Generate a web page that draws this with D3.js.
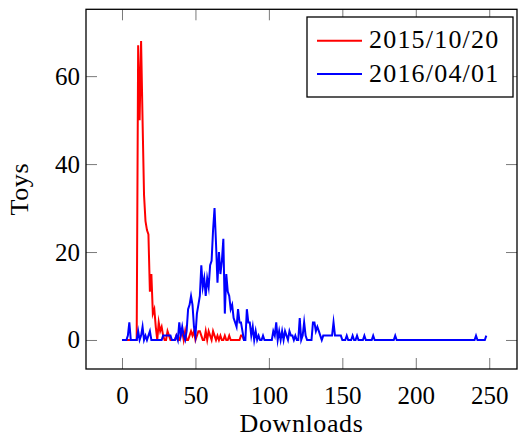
<!DOCTYPE html>
<html>
<head>
<meta charset="utf-8">
<script src="https://cdn.jsdelivr.net/npm/d3@7"></script>
<style>
  html, body { margin: 0; padding: 0; background: #fff; }
  svg { display: block; }
  text { font-family: "Liberation Serif", "DejaVu Serif", serif; fill: #000; }
</style>
</head>
<body>
<svg id="chart" width="530" height="439"></svg>
<script>
// Number of toys for each download count, on two snapshot dates.
const seriesNames = ["2015/10/20", "2016/04/01"];
const seriesColors = ["#ff0000", "#0000ff"];

// 2015/10/20: downloads 0..83
const toys2015 = [
  0, 0, 0, 0, 0, 0, 0, 0, 0, 0,
  0, 67, 50, 68, 50, 33, 27, 25, 24, 11,
  15, 6, 7, 3, 0, 4, 2, 3, 1, 0,
  0, 2, 1, 0, 0, 0, 0, 1, 0, 0,
  1, 2, 0, 2, 0, 0, 1, 2, 1, 2,
  0, 1, 2, 2, 1, 0, 0, 2, 0, 2,
  1, 0, 2, 1, 0, 1, 0, 1, 0, 0,
  1, 0, 0, 1, 0, 0, 0, 0, 0, 0,
  0, 1, 1, 0
];

// 2016/04/01: downloads 0..248
const toys2016 = [
  0, 0, 0, 0, 1, 4, 0, 0, 0, 0,
  0, 2, 0, 1, 3, 0, 1, 0, 1, 2,
  0, 0, 0, 0, 0, 0, 0, 0, 1, 1,
  1, 1, 1, 1, 0, 0, 0, 1, 0, 4,
  1, 3, 1, 0, 2, 7, 8, 10, 8, 3,
  1, 6, 8, 10, 17, 12, 14, 10, 14, 12,
  17, 18, 25, 30, 22, 13, 20, 15, 18, 23,
  6, 15, 11, 10, 7, 8, 5, 4, 3, 7,
  4, 4, 2, 0, 0, 7, 4, 4, 1, 3,
  0, 2, 0, 1, 0, 0, 1, 0, 0, 0,
  0, 0, 0, 2, 1, 4, 0, 2, 0, 2,
  0, 2, 1, 0, 2, 1, 1, 0, 1, 0,
  0, 5, 0, 1, 4, 1, 0, 0, 0, 0,
  4, 4, 2, 3, 2, 1, 0, 1, 1, 1,
  1, 1, 1, 1, 4, 1, 1, 1, 1, 1,
  0, 0, 0, 1, 0, 0, 0, 1, 0, 0,
  1, 0, 0, 0, 0, 1, 0, 0, 0, 0,
  0, 1, 0, 0, 0, 0, 0, 0, 0, 0,
  0, 0, 0, 0, 0, 0, 1, 0, 0, 0,
  0, 0, 0, 0, 0, 0, 0, 0, 0, 0,
  0, 0, 0, 0, 0, 0, 0, 0, 0, 0,
  0, 0, 0, 0, 0, 0, 0, 0, 0, 0,
  0, 0, 0, 0, 0, 0, 0, 0, 0, 0,
  0, 0, 0, 0, 0, 0, 0, 0, 0, 0,
  0, 1, 0, 0, 0, 0, 0, 0, 1
];

const xTicks = [0, 50, 100, 150, 200, 250];
const yTicks = [0, 20, 40, 60];
const xLabel = "Downloads";
const yLabel = "Toys";

// Plot frame
const frame = { left: 86, right: 517, top: 9.3, bottom: 369 };
const svg = d3.select("#chart");

const x = d3.scaleLinear().domain([-24.5, 268.9]).range([frame.left, frame.right]);
const y = d3.scaleLinear().domain([-6.6, 75.2]).range([frame.bottom, frame.top]);

const tickLen = 11;
const tickColor = "#7a7a7a";

function styleAxis(g) {
  g.select(".domain").remove();
  g.selectAll(".tick line").attr("stroke", tickColor).attr("stroke-width", 1);
  g.selectAll(".tick text")
    .attr("font-family", "Liberation Serif, DejaVu Serif, serif")
    .attr("font-size", 25)
    .attr("fill", "#000");
}

// Bottom axis with labels, ticks pointing inward
svg.append("g")
  .attr("transform", `translate(0,${frame.bottom})`)
  .call(d3.axisBottom(x).tickValues(xTicks).tickSizeInner(-tickLen).tickSizeOuter(0).tickPadding(17).tickFormat(d3.format("d")))
  .call(styleAxis);

// Top mirrored ticks
svg.append("g")
  .attr("transform", `translate(0,${frame.top})`)
  .call(d3.axisTop(x).tickValues(xTicks).tickSizeInner(-tickLen).tickSizeOuter(0).tickFormat(""))
  .call(styleAxis);

// Left axis with labels
svg.append("g")
  .attr("transform", `translate(${frame.left},0)`)
  .call(d3.axisLeft(y).tickValues(yTicks).tickSizeInner(-tickLen).tickSizeOuter(0).tickPadding(6).tickFormat(d3.format("d")))
  .call(styleAxis);

// Right mirrored ticks
svg.append("g")
  .attr("transform", `translate(${frame.right},0)`)
  .call(d3.axisRight(y).tickValues(yTicks).tickSizeInner(-tickLen).tickSizeOuter(0).tickFormat(""))
  .call(styleAxis);

// Clip for data lines
svg.append("clipPath").attr("id", "plotclip")
  .append("rect").attr("x", frame.left).attr("y", frame.top)
  .attr("width", frame.right - frame.left).attr("height", frame.bottom - frame.top);

const line = d3.line()
  .x((d, i) => x(i))
  .y(d => y(d));

const plot = svg.append("g").attr("clip-path", "url(#plotclip)");
[toys2015, toys2016].forEach((vals, k) => {
  plot.append("path")
    .datum(vals)
    .attr("d", line)
    .attr("fill", "none")
    .attr("stroke", seriesColors[k])
    .attr("stroke-width", 2)
    .attr("stroke-linejoin", "miter")
    .attr("stroke-miterlimit", 10);
});

// Frame
svg.append("rect")
  .attr("x", frame.left).attr("y", frame.top)
  .attr("width", frame.right - frame.left).attr("height", frame.bottom - frame.top)
  .attr("fill", "none").attr("stroke", "#000").attr("stroke-width", 1.3);

// Axis titles
svg.append("text")
  .attr("x", (frame.left + frame.right) / 2).attr("y", 432)
  .attr("text-anchor", "middle")
  .attr("font-size", 26)
  .attr("letter-spacing", 0.6)
  .text(xLabel);

svg.append("text")
  .attr("transform", `translate(28,${(frame.top + frame.bottom) / 2}) rotate(-90)`)
  .attr("text-anchor", "middle")
  .attr("font-size", 26)
  .attr("letter-spacing", 0.6)
  .text(yLabel);

// Legend
const lg = svg.append("g");
lg.append("rect")
  .attr("x", 307).attr("y", 17).attr("width", 206).attr("height", 80)
  .attr("fill", "#fff").attr("stroke", "#000").attr("stroke-width", 1.3);
const rowY = [40.7, 74];
seriesNames.forEach((name, k) => {
  lg.append("line")
    .attr("x1", 317).attr("x2", 362)
    .attr("y1", rowY[k]).attr("y2", rowY[k])
    .attr("stroke", seriesColors[k]).attr("stroke-width", 2);
  lg.append("text")
    .attr("x", 369).attr("y", rowY[k] + 7.5)
    .attr("font-size", 26)
    .attr("letter-spacing", 1.2)
    .text(name);
});
</script>
</body>
</html>
